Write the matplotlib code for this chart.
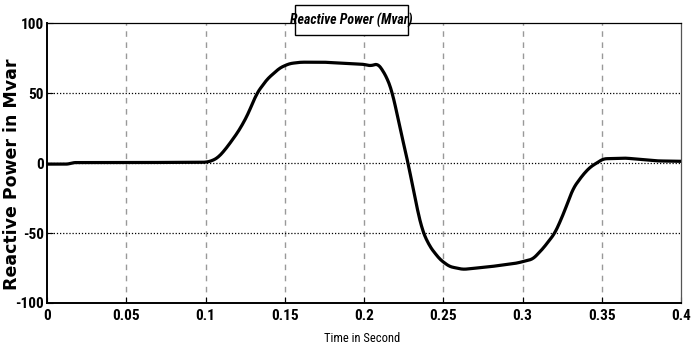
#!/usr/bin/env python3
import matplotlib
matplotlib.use("Agg")
import matplotlib.pyplot as plt
from matplotlib import font_manager
from matplotlib.patches import Rectangle
import numpy as np

# values
time_s = [0.0, 0.014, 0.016, 0.05, 0.10, 0.104, 0.108, 0.112, 0.116, 0.121, 0.126,
          0.1325, 0.139, 0.147, 0.153, 0.16, 0.175, 0.19, 0.2, 0.204, 0.206,
          0.209, 0.2145, 0.218, 0.2227, 0.2278, 0.2334, 0.237, 0.2417, 0.248,
          0.254, 0.2625, 0.28, 0.2965, 0.3066, 0.313, 0.3205, 0.3256, 0.332,
          0.338, 0.3426, 0.351, 0.365, 0.372, 0.385, 0.4]
q_mvar = [-0.8, -0.8, 0.3, 0.3, 0.5, 1.5, 4, 9, 15, 23, 33,
          50, 60, 68, 71, 72, 72, 71, 70.5, 69.3, 70,
          71, 61, 50, 25, 0, -32, -49, -60, -69,
          -74, -76, -74, -71.5, -68.6, -61, -50, -37, -18,
          -8.6, -3, 3, 3.5, 2.8, 1.5, 1.2]
x_ticks = [0, 0.05, 0.1, 0.15, 0.2, 0.25, 0.3, 0.35, 0.4]
y_ticks = [-100, -50, 0, 50, 100]

names = {f.name for f in font_manager.fontManager.ttflist}
narrow = "Liberation Sans"
for cand in ["Arial Narrow", "Liberation Sans Narrow", "Roboto Condensed",
             "Archivo Narrow", "PT Sans Narrow", "Sofia Sans Condensed"]:
    if cand in names:
        narrow = cand
        break

W, H = 700, 349
fig = plt.figure(figsize=(W / 100, H / 100), dpi=100)
ax = fig.add_axes([47 / W, 1 - 303 / H, 634 / W, 280 / H])

# smooth the read points a little for drawing
t_fine = np.linspace(0, 0.4, 800)
q_fine = np.interp(t_fine, time_s, q_mvar)
kernel = np.ones(9) / 9
q_smooth = np.convolve(np.pad(q_fine, 4, mode="edge"), kernel, mode="valid")
ax.plot(t_fine, q_smooth, color="black", lw=2.3, zorder=3)

ax.set_xlim(0, 0.4)
ax.set_ylim(-100, 100)
ax.set_xticks(x_ticks)
ax.set_yticks(y_ticks)
ax.set_xticklabels([f"{v:g}" for v in x_ticks])
ax.set_yticklabels([f"{v:g}" for v in y_ticks])

for v in x_ticks[1:-1]:
    ax.axvline(v, color="#999999", ls=(0, (4, 4)), lw=1.0, zorder=1)
for v in y_ticks[1:-1]:
    ax.axhline(v, color="black", ls=(0, (1, 1.5)), lw=0.9, zorder=1)

ax.tick_params(direction="in", length=4, width=0.8)
ax.tick_params(axis="y", pad=2)
ax.tick_params(axis="x", pad=4)
for lab in ax.get_xticklabels() + ax.get_yticklabels():
    lab.set_fontfamily(narrow)
    lab.set_fontweight("bold")
    lab.set_fontsize(11)

for side in ("left", "bottom"):
    ax.spines[side].set_linewidth(1.4)
for side in ("top", "right"):
    ax.spines[side].set_linewidth(0.9)
ax.spines["right"].set_color("#555555")

fig.text(12 / W, 1 - 174 / H, "Reactive Power in Mvar", rotation=90,
         ha="center", va="center", fontsize=12.5, fontweight="bold",
         family="DejaVu Sans")
fig.text(362 / W, 1 - 338 / H, "Time in Second", ha="center", va="center",
         fontsize=9, family=narrow)

# title box straddling the top edge of the axes
fig.add_artist(Rectangle((295 / W, 1 - 35 / H), 113 / W, 30 / H,
                         transform=fig.transFigure, fc="white", ec="black",
                         lw=1.0, zorder=5))
fig.text(351.5 / W, 1 - 20 / H, "Reactive Power (Mvar)", ha="center",
         va="center", fontsize=10, fontstyle="italic", fontweight="bold",
         family=narrow, zorder=6)

fig.savefig("out.png", dpi=100)
